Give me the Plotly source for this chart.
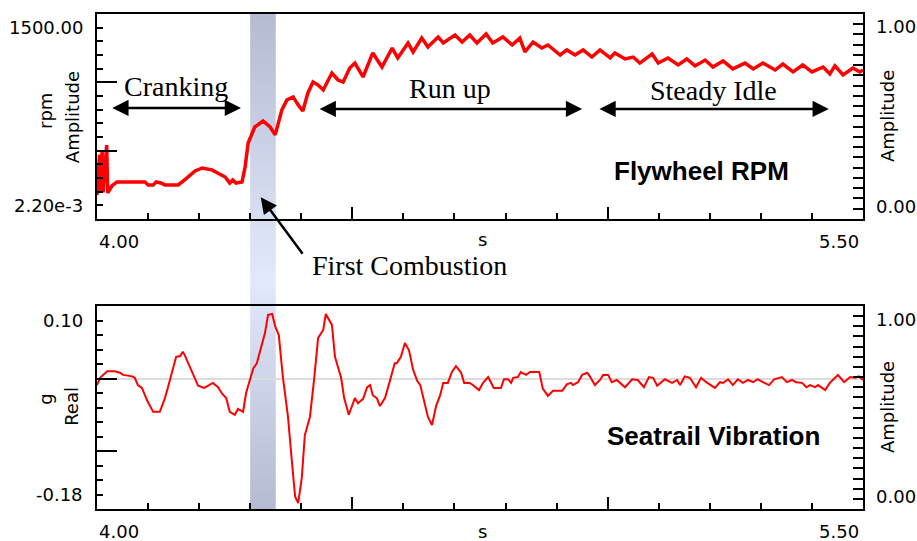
import plotly.graph_objects as go

# ---------------- data ----------------
rpm_t = [4.000, 4.005, 4.007, 4.010, 4.012, 4.019, 4.021,
         4.029, 4.039, 4.094, 4.100, 4.110, 4.116, 4.125, 4.133, 4.159, 4.174, 4.192,
         4.206, 4.225, 4.251, 4.260, 4.266, 4.272, 4.284, 4.290, 4.296, 4.304, 4.309,
         4.325, 4.339, 4.349, 4.362, 4.372, 4.384, 4.394, 4.403, 4.413, 4.423, 4.433,
         4.443, 4.460, 4.472, 4.482, 4.495, 4.505, 4.521, 4.540, 4.558, 4.578, 4.589,
         4.609, 4.619, 4.636, 4.648, 4.668, 4.678, 4.701, 4.715, 4.730, 4.744, 4.762,
         4.775, 4.795, 4.813, 4.828, 4.838, 4.854, 4.871, 4.883, 4.907, 4.920, 4.936,
         4.952, 4.969, 4.985, 5.005, 5.014, 5.034, 5.050, 5.063, 5.087, 5.099, 5.118,
         5.138, 5.155, 5.171, 5.191, 5.206, 5.226, 5.245, 5.269, 5.285, 5.304, 5.328,
         5.343, 5.363, 5.382, 5.400, 5.422, 5.435, 5.445, 5.461, 5.480, 5.494, 5.500]
rpm_v = [175, 470, 190, 490, 195, 540, 190,
         241, 271, 271, 249, 249, 271, 263, 249, 249, 293, 351,
         373, 359, 307, 263, 285, 263, 271, 380, 556, 629, 673,
         717, 673, 615, 798, 871, 893, 834, 790, 922, 1002, 980,
         944, 1068, 1017, 1002, 1105, 1141, 1039, 1215, 1112, 1251, 1178,
         1288, 1222, 1324, 1259, 1332, 1288, 1346, 1295, 1346, 1288, 1354,
         1288, 1332, 1273, 1324, 1222, 1295, 1251, 1273, 1200, 1237, 1200,
         1237, 1185, 1237, 1178, 1215, 1171, 1185, 1141, 1207, 1141, 1178,
         1127, 1171, 1120, 1163, 1112, 1156, 1098, 1141, 1098, 1141, 1090,
         1134, 1076, 1127, 1076, 1112, 1061, 1120, 1054, 1105, 1076, 1090]

vib_t = [4.000, 4.006, 4.020, 4.035, 4.045, 4.051, 4.069, 4.074, 4.080, 4.088, 4.098,
         4.110, 4.123, 4.133, 4.139, 4.147, 4.155, 4.163, 4.168, 4.172, 4.186, 4.192,
         4.198, 4.210, 4.227, 4.237, 4.245, 4.253, 4.260, 4.270, 4.276, 4.286, 4.292,
         4.298, 4.306, 4.313, 4.323, 4.329, 4.335, 4.343, 4.349, 4.356, 4.364, 4.374,
         4.382, 4.388, 4.394, 4.401, 4.407, 4.417, 4.425, 4.433, 4.443, 4.448, 4.460,
         4.466, 4.478, 4.484, 4.493, 4.505, 4.511, 4.521, 4.529, 4.535, 4.540, 4.548,
         4.554, 4.564, 4.574, 4.583, 4.587, 4.595, 4.603, 4.611, 4.619, 4.627, 4.633,
         4.642, 4.648, 4.656, 4.664, 4.672, 4.678, 4.687, 4.695, 4.703, 4.713, 4.719,
         4.730, 4.736, 4.748, 4.756, 4.766, 4.777, 4.791, 4.797, 4.805, 4.811, 4.815,
         4.824, 4.830, 4.840, 4.848, 4.866, 4.873, 4.883, 4.893, 4.911, 4.920, 4.928,
         4.932, 4.942, 4.950, 4.960, 4.965, 4.975, 4.985, 4.991, 5.001, 5.008, 5.018,
         5.034, 5.048, 5.059, 5.071, 5.081, 5.089, 5.097, 5.112, 5.126, 5.136, 5.142,
         5.151, 5.161, 5.173, 5.183, 5.193, 5.210, 5.220, 5.226, 5.236, 5.245, 5.255,
         5.265, 5.275, 5.285, 5.294, 5.304, 5.316, 5.326, 5.341, 5.351, 5.361, 5.369,
         5.381, 5.389, 5.396, 5.406, 5.412, 5.426, 5.435, 5.451, 5.463, 5.475, 5.484,
         5.492, 5.500]
vib_g = [-0.009, 0.001, 0.010, 0.010, 0.008, 0.005, 0.003, 0.001, -0.009, -0.013, -0.030,
         -0.046, -0.046, -0.027, -0.012, 0.008, 0.030, 0.031, 0.037, 0.032, 0.009, 0.001,
         -0.010, -0.013, -0.006, -0.012, -0.021, -0.027, -0.046, -0.050, -0.042, -0.046, -0.020,
         -0.005, 0.014, 0.021, 0.050, 0.063, 0.088, 0.089, 0.072, 0.060, 0.002, -0.053,
         -0.117, -0.163, -0.172, -0.137, -0.078, -0.053, -0.002, 0.056, 0.067, 0.089, 0.074,
         0.030, 0.001, -0.027, -0.050, -0.027, -0.034, -0.028, -0.012, -0.009, -0.023, -0.027,
         -0.038, -0.027, -0.002, 0.021, 0.021, 0.030, 0.049, 0.039, 0.012, -0.003, -0.009,
         -0.034, -0.053, -0.064, -0.038, -0.023, -0.006, -0.006, 0.009, 0.017, 0.008, -0.006,
         -0.006, -0.009, -0.016, -0.006, 0.002, -0.013, -0.013, -0.001, -0.001, -0.006, 0.001,
         0.002, 0.009, 0.005, 0.009, 0.009, -0.014, -0.024, -0.017, -0.017, -0.008, -0.006,
         -0.009, -0.005, 0.005, 0.008, 0.003, -0.009, -0.002, 0.005, 0.005, -0.005, -0.002,
         -0.012, -0.001, -0.002, -0.012, 0.002, 0.001, -0.010, -0.001, -0.006, -0.002, -0.009,
         0.003, 0.001, -0.012, 0.001, -0.005, -0.013, -0.005, -0.006, -0.001, -0.009, -0.001,
         -0.006, -0.002, -0.005, -0.001, -0.005, -0.009, -0.001, 0.002, -0.005, -0.002, -0.005,
         -0.006, -0.012, -0.009, -0.012, -0.009, -0.016, -0.006, 0.005, -0.005, 0.002, 0.001,
         0.003, -0.002]

t_range = [4.0, 5.5]
rpm_range = [0, 1500]
g_range = [-0.18, 0.10]
amp_range = [0, 1]
combustion_window = [4.30, 4.35]

# phase annotations: (label, start time, end time)
phases = [("Cranking", 4.027, 4.282), ("Run up", 4.433, 4.950), ("Steady Idle", 4.981, 5.433)]

# ---------------- figure ----------------
RED = "#ff0000"
TICKFONT = dict(family="DejaVu Sans", size=18, color="black")
SERIF = dict(family="Liberation Serif", size=28, color="black")
BOLD = dict(family="Liberation Sans", size=26, color="black", weight="bold")

fig = go.Figure()
fig.add_trace(go.Scatter(x=rpm_t, y=rpm_v, mode="lines", line=dict(color=RED, width=3.5),
                         xaxis="x", yaxis="y", hoverinfo="skip", showlegend=False))
fig.add_trace(go.Scatter(x=vib_t, y=vib_g, mode="lines", line=dict(color=RED, width=2),
                         xaxis="x2", yaxis="y3", hoverinfo="skip", showlegend=False))
fig.add_trace(go.Scatter(x=[], y=[], xaxis="x", yaxis="y2", showlegend=False))
fig.add_trace(go.Scatter(x=[], y=[], xaxis="x2", yaxis="y4", showlegend=False))

top_dom = [0.586, 1.0]
bot_dom = [0.0, 0.410]

def xax(anchor):
    return dict(domain=[0, 1], anchor=anchor, range=t_range, showline=True, mirror=True,
                linecolor="black", linewidth=2, ticks="inside", tickmode="array",
                tickvals=[4.5, 5.0], ticklen=12, tickwidth=2, tickcolor="black",
                showticklabels=False, showgrid=False, zeroline=False,
                minor=dict(ticks="inside", tick0=4.0, dtick=0.1, ticklen=6, tickwidth=2,
                           tickcolor="black", showgrid=False))

def yleft(dom, anchor, rng, majors, mdt, zl=False):
    return dict(domain=dom, anchor=anchor, range=rng, showline=True, mirror=True,
                linecolor="black", linewidth=2, ticks="inside", tickmode="array",
                tickvals=majors, ticklen=20, tickwidth=2, tickcolor="black",
                showticklabels=False, showgrid=False, zeroline=zl,
                zerolinecolor="#dcdcdc", zerolinewidth=2,
                minor=dict(ticks="inside", tick0=0, dtick=mdt, ticklen=6, tickwidth=2,
                           tickcolor="black", showgrid=False))

def yright(over, anchor):
    return dict(overlaying=over, side="right", anchor=anchor, range=amp_range,
                ticks="inside", tickmode="linear", tick0=0, dtick=0.05, ticklen=10,
                tickwidth=2, tickcolor="black", showticklabels=False, showgrid=False,
                zeroline=False, showline=False)

fig.update_layout(
    width=917, height=541,
    margin=dict(l=97, r=54, t=14, b=32),
    paper_bgcolor="white", plot_bgcolor="rgba(0,0,0,0)",
    showlegend=False,
    xaxis=xax("y"),
    xaxis2=xax("y3"),
    yaxis=yleft(top_dom, "x", rpm_range, [500, 1000], 100),
    yaxis2=yright("y", "x"),
    yaxis3=yleft(bot_dom, "x2", g_range, [-0.1, 0.0], 0.02, zl=True),
    yaxis4=yright("y3", "x2"),
)

# ---- combustion band with vertical gradient ----
dark = (180, 187, 210)
light = (226, 233, 252)
N = 110
H = 495.0
shapes = []
for i in range(N):
    p0 = i / N
    p1 = (i + 1) / N
    py = 509 - (p0 + p1) / 2 * H  # pixel y of strip centre
    if py <= 280:
        f = (py - 14) / (280 - 14)
    else:
        f = (509 - py) / (509 - 280)
    f = max(0.0, min(1.0, f))
    c = tuple(int(round(d + (l - d) * f)) for d, l in zip(dark, light))
    shapes.append(dict(type="rect", xref="x", yref="paper",
                       x0=combustion_window[0], x1=combustion_window[1],
                       y0=p0, y1=min(1.0, p1 + 0.002), line=dict(width=0),
                       fillcolor="rgb(%d,%d,%d)" % c, layer="below"))
fig.update_layout(shapes=shapes)

ann = []
def text(t, x, y, xref, yref, font=TICKFONT, **kw):
    d = dict(text=t, x=x, y=y, xref=xref, yref=yref, showarrow=False, font=font,
             xanchor="center", yanchor="middle")
    d.update(kw)
    ann.append(d)

# left / right axis labels (top)
text("1500.00", -0.0157, 1400, "paper", "y", xanchor="right")
text("2.20e-3", -0.0157, 100, "paper", "y", xanchor="right")
text("rpm", -0.0679, 790, "paper", "y", textangle=-90)
text("Amplitude", -0.0326, 745, "paper", "y", textangle=-90)
text("1.00", 1.0144, 0.94, "paper", "y2", xanchor="left")
text("0.00", 1.0144, 0.06, "paper", "y2", xanchor="left")
text("Amplitude", 1.032, 0.5, "paper", "y2", textangle=-90)
# x labels (top)
text("4.00", 4.0, 0.541, "x", "paper", xanchor="left")
text("s", 4.754, 0.544, "x", "paper")
text("5.50", 5.497, 0.541, "x", "paper", xanchor="right")

# bottom axis labels
text("0.10", -0.0157, 0.08, "paper", "y3", xanchor="right")
text("-0.18", -0.0157, -0.16, "paper", "y3", xanchor="right")
text("g", -0.0666, -0.028, "paper", "y3", textangle=-90)
text("Real", -0.0326, -0.039, "paper", "y3", textangle=-90)
text("1.00", 1.0144, 0.935, "paper", "y4", xanchor="left")
text("0.00", 1.0144, 0.06, "paper", "y4", xanchor="left")
text("Amplitude", 1.032, 0.5, "paper", "y4", textangle=-90)
text("4.00", 4.0, -0.0445, "x2", "paper", xanchor="left")
text("s", 4.754, -0.0445, "x2", "paper")
text("5.50", 5.497, -0.0445, "x2", "paper", xanchor="right")

# phase labels and double arrows
label_y = {"Cranking": 969, "Run up": 954, "Steady Idle": 939}
arrow_y = {"Cranking": 812, "Run up": 805, "Steady Idle": 805}
for name, t0, t1 in phases:
    text(name, (t0 + t1) / 2, label_y[name], "x", "y", font=SERIF)
    ann.append(dict(text="", x=t1, y=arrow_y[name], xref="x", yref="y",
                    ax=t0, ay=arrow_y[name], axref="x", ayref="y",
                    showarrow=True, arrowside="end+start", arrowhead=2, startarrowhead=2,
                    arrowsize=1.3, startarrowsize=1.3, arrowwidth=2.5, arrowcolor="black",
                    standoff=0, startstandoff=0))

# first combustion
text("First Combustion", 4.611, 0.4928, "x", "paper", font=SERIF)
ann.append(dict(text="", x=4.3206, y=159, xref="x", yref="y", ax=43, ay=58,
                showarrow=True, arrowhead=2, arrowsize=1.3, arrowwidth=2.5,
                arrowcolor="black", standoff=0))

# panel titles
text("Flywheel RPM", 5.1828, 351, "x", "y", font=BOLD)
text("Seatrail Vibration", 5.2082, -0.0786, "x2", "y3", font=BOLD)

fig.update_layout(annotations=ann)
fig.write_html("out.html")
